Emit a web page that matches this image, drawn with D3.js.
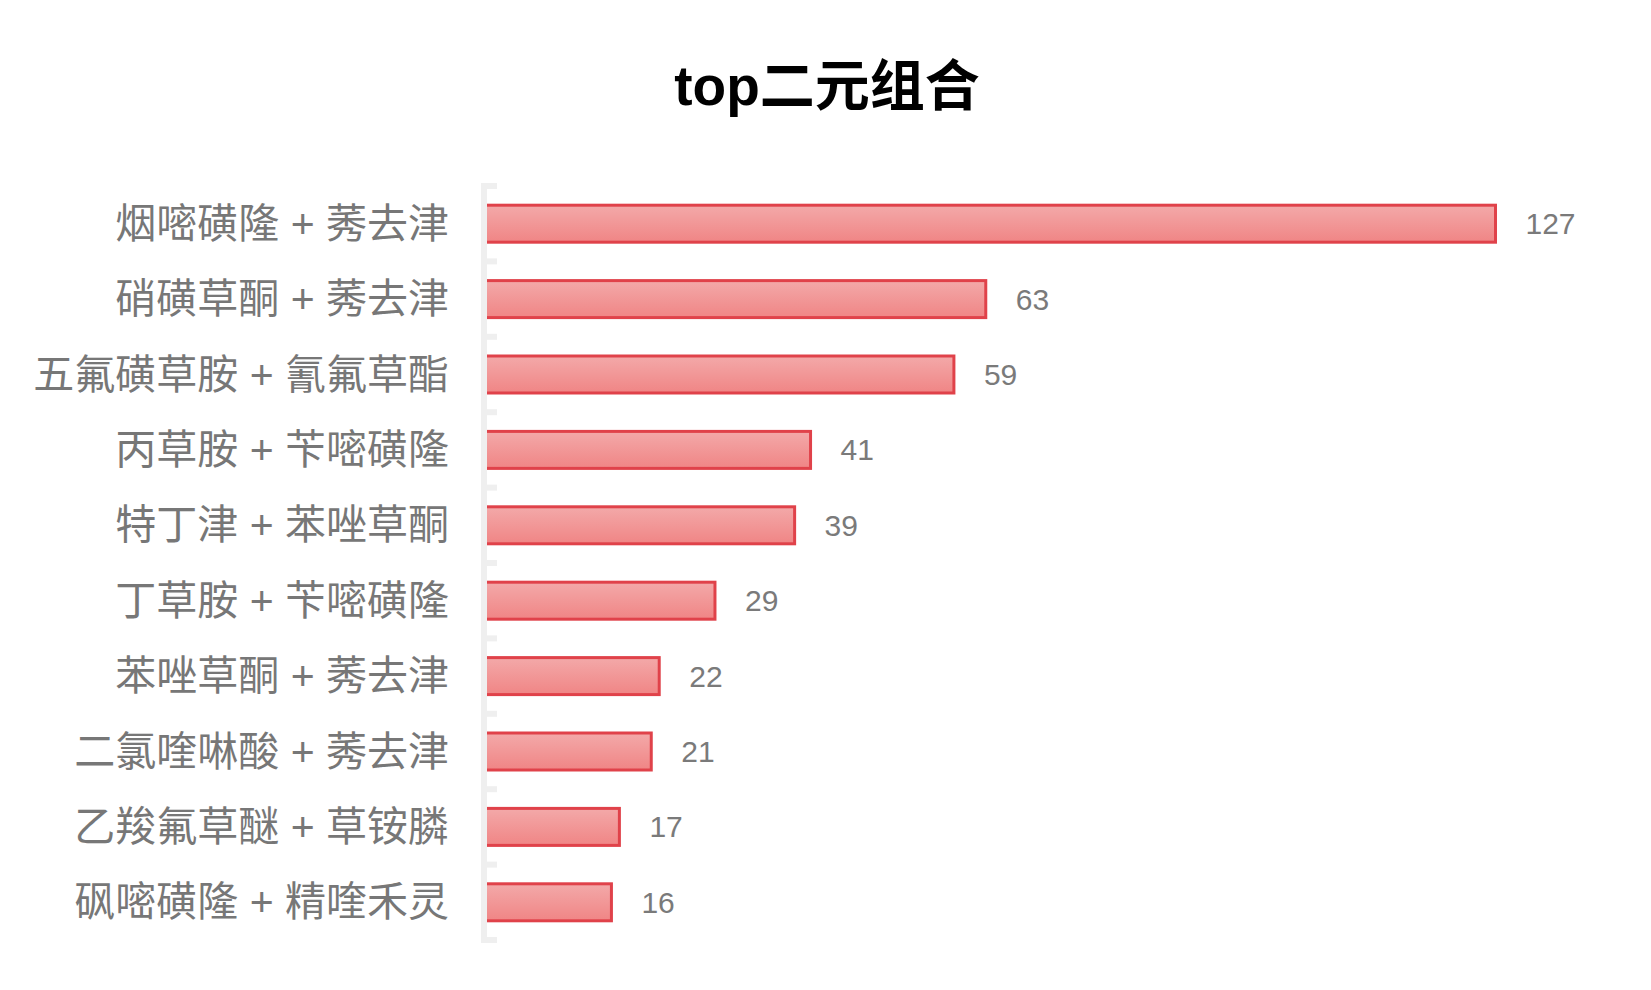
<!DOCTYPE html>
<html>
<head>
<meta charset="utf-8">
<script src="https://cdn.jsdelivr.net/npm/d3@7"></script>
<style>
  body { margin: 0; background: #fff; }
  svg { display: block; }
</style>
</head>
<body>
<svg width="1651" height="990"></svg>
<script>
// 数据
var titleText = "top二元组合";
var categories = [
    "烟嘧磺隆 + 莠去津",
    "硝磺草酮 + 莠去津",
    "五氟磺草胺 + 氰氟草酯",
    "丙草胺 + 苄嘧磺隆",
    "特丁津 + 苯唑草酮",
    "丁草胺 + 苄嘧磺隆",
    "苯唑草酮 + 莠去津",
    "二氯喹啉酸 + 莠去津",
    "乙羧氟草醚 + 草铵膦",
    "砜嘧磺隆 + 精喹禾灵"
];
var counts = [127, 63, 59, 41, 39, 29, 22, 21, 17, 16];

var font = "'Liberation Sans', 'Noto Sans CJK SC', sans-serif";
var svg = d3.select("svg");

// 渐变
var grad = svg.append("defs").append("linearGradient")
    .attr("id", "barGrad")
    .attr("x1", 0).attr("y1", 0).attr("x2", 0).attr("y2", 1);
grad.append("stop").attr("offset", "0%").attr("stop-color", "#f3a9a9");
grad.append("stop").attr("offset", "100%").attr("stop-color", "#f08585");

// 比例尺
var x = d3.scaleLinear()
    .domain([0, 127])
    .range([484, 1495.5]);

var y = d3.scaleBand()
    .domain(categories)
    .range([186, 940])
    .padding(0);

var barH = 37;

// 标题
svg.append("text")
    .attr("x", 827)
    .attr("y", 86)
    .attr("text-anchor", "middle")
    .attr("dominant-baseline", "central")
    .attr("font-family", font)
    .attr("font-weight", "bold")
    .attr("font-size", 55)
    .attr("fill", "#000")
    .text(titleText);

var rows = categories.map((c, i) => ({ name: c, value: counts[i] }));

// 条形
svg.selectAll("rect.bar")
    .data(rows)
    .enter().append("rect")
    .attr("class", "bar")
    .attr("x", x(0))
    .attr("y", d => y(d.name) + y.bandwidth() / 2 - barH / 2)
    .attr("width", d => x(d.value) - x(0))
    .attr("height", barH)
    .attr("fill", "url(#barGrad)")
    .attr("stroke", "#e0424a")
    .attr("stroke-width", 3);

// 数值标签
svg.selectAll("text.val")
    .data(rows)
    .enter().append("text")
    .attr("class", "val")
    .attr("x", d => x(d.value) + 30)
    .attr("y", d => y(d.name) + y.bandwidth() / 2)
    .attr("dominant-baseline", "central")
    .attr("font-family", font)
    .attr("font-size", 30)
    .attr("fill", "#7a7a7a")
    .text(d => d.value);

// 类目标签
svg.selectAll("text.cat")
    .data(rows)
    .enter().append("text")
    .attr("class", "cat")
    .attr("x", 449)
    .attr("y", d => y(d.name) + y.bandwidth() / 2)
    .attr("text-anchor", "end")
    .attr("dominant-baseline", "central")
    .attr("font-family", font)
    .attr("font-size", 41)
    .attr("fill", "#777")
    .text(d => d.name);

// Y 轴线和刻度
var axisG = svg.append("g");
var r = y.range();
var bounds = categories.map(c => y(c)).concat([r[1]]);
axisG.append("line")
    .attr("x1", x(0)).attr("x2", x(0))
    .attr("y1", r[0] - 3).attr("y2", r[1] + 3)
    .attr("stroke", "#efefef")
    .attr("stroke-width", 6);
axisG.selectAll("line.tick")
    .data(bounds)
    .enter().append("line")
    .attr("class", "tick")
    .attr("x1", x(0) - 3).attr("x2", x(0) + 13)
    .attr("y1", d => d).attr("y2", d => d)
    .attr("stroke", "#efefef")
    .attr("stroke-width", 6);
</script>
</body>
</html>
